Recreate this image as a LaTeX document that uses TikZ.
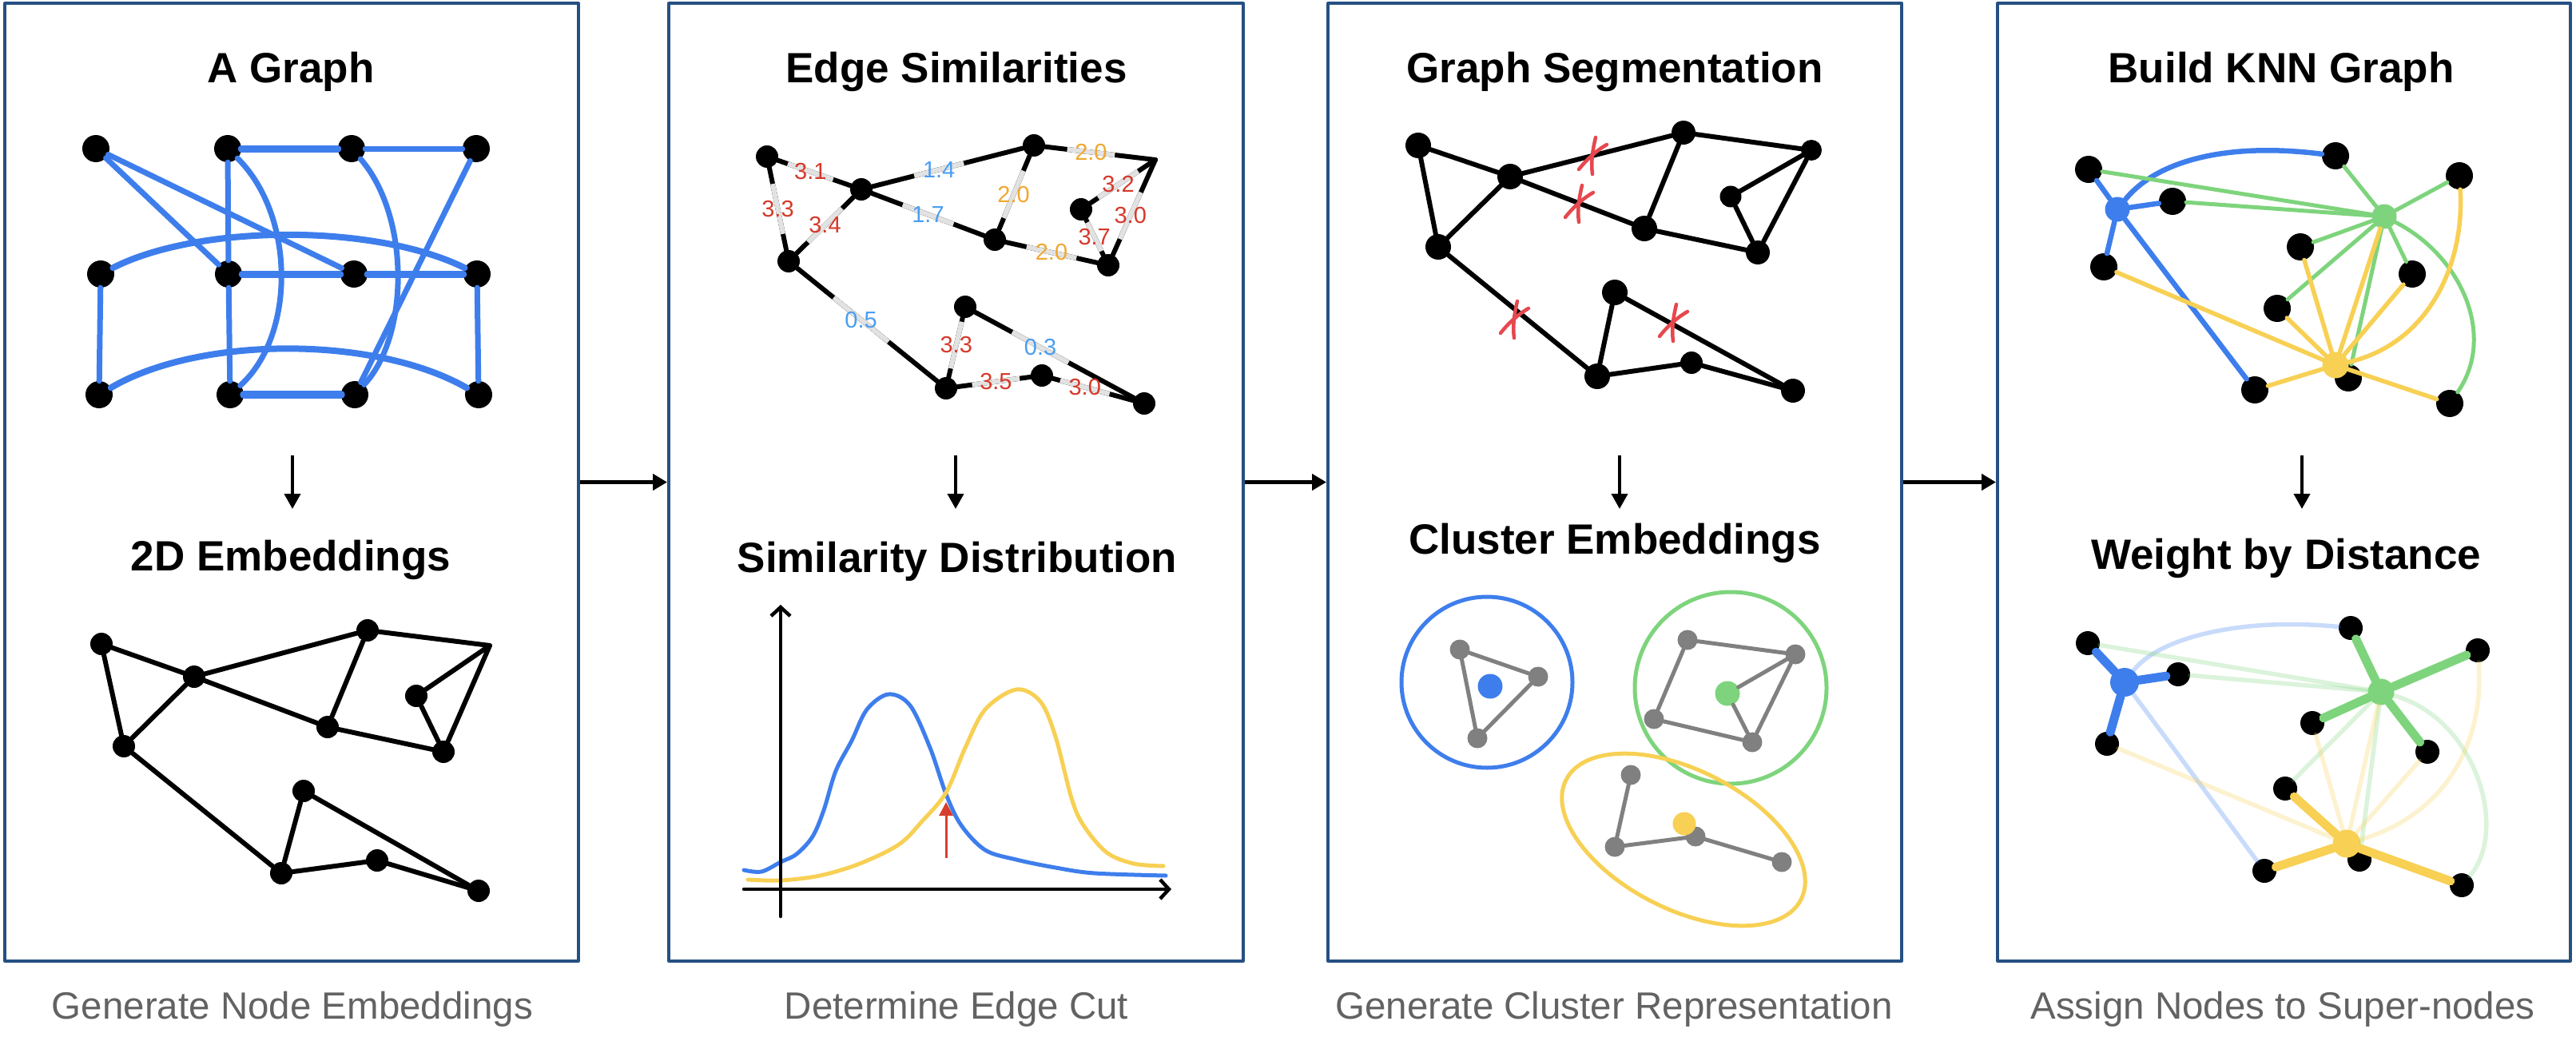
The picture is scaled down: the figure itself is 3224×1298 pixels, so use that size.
\documentclass[tikz,border=0pt]{standalone}
\usepackage{fontspec}
\setmainfont{Liberation Sans}
\usetikzlibrary{calc,arrows.meta}
\definecolor{pborder}{RGB}{37,80,130}
\definecolor{kblue}{RGB}{62,126,236}
\definecolor{kgreen}{RGB}{126,212,124}
\definecolor{kyellow}{RGB}{247,208,84}
\definecolor{lblred}{RGB}{214,57,42}
\definecolor{lblblue}{RGB}{74,158,240}
\definecolor{lblorange}{RGB}{240,168,48}
\definecolor{capgray}{RGB}{98,98,98}
\definecolor{xred}{RGB}{229,72,78}
\definecolor{seggray}{RGB}{226,226,226}
\definecolor{ngray}{RGB}{128,128,128}
\definecolor{arrred}{RGB}{216,62,45}
\tikzset{
  panelbox/.style={rectangle, draw=pborder, line width=4pt, inner sep=0pt},
  ttl/.style={font=\fontsize{53}{60}\selectfont\bfseries, anchor=base, inner sep=0pt},
  captxt/.style={font=\fontsize{47.5}{56}\selectfont, text=capgray, anchor=base, inner sep=0pt},
  flow/.style={line width=4.5pt, line cap=butt, -{Triangle[length=18pt,width=20pt]}},
  vflow/.style={line width=4pt, line cap=butt, -{Triangle[length=19pt,width=20pt]}},
  bdot/.style={circle, fill=black, inner sep=0pt, minimum size=#1},
  bdot/.default=32pt,
  cdot/.style={circle, fill=#1, inner sep=0pt, minimum size=31pt},
  gnode/.style={circle, fill=ngray, inner sep=0pt, minimum size=25pt},
  simline/.style={line width=6pt},
  simseg/.style={seggray, line width=6pt, line cap=butt},
  simlbl/.style={font=\fontsize{29}{31}\selectfont, inner sep=0pt},
  axisline/.style={line width=4.5pt, -{Straight Barb[length=11pt,width=24pt]}},
  xcut/.pic={
    \draw[xred, line width=4.5pt, line cap=round] (3,-23) .. controls (-1,-6) and (-3,8) .. (-1,23);
    \draw[xred, line width=4.5pt, line cap=round] (-18,17) .. controls (-8,4) and (6,-8) .. (17,-14);
  },
}
\newcommand{\SimEdge}[6]{%
  \draw[simline] (#1) -- (#2);
  \coordinate (mtmp) at ($(#1)!#3!(#2)$);
  \draw[simseg] ($(mtmp)!#6!(#1)$) -- ($(mtmp)!#6!(#2)$);
  \node[simlbl, text=#5] at (mtmp) {#4};
}
\begin{document}
\begin{tikzpicture}[x=1pt, y=-1pt, line cap=round, line join=round]
\useasboundingbox (0,0) rectangle (3224,1298);
% ---------------- panels and flow
\node[panelbox, minimum width=718pt, minimum height=1198pt] (p1) at (365,603.5) {};
\node[panelbox, minimum width=719pt, minimum height=1198pt] (p2) at (1196.5,603.5) {};
\node[panelbox, minimum width=718pt, minimum height=1198pt] (p3) at (2021,603.5) {};
\node[panelbox, minimum width=717pt, minimum height=1198pt] (p4) at (2858.5,603.5) {};
\draw[flow] (p1) -- (p2);
\draw[flow] (p2) -- (p3);
\draw[flow] (p3) -- (p4);
% ---------------- titles and captions
\node[ttl] (t1) at (364,103) {A Graph};
\node[ttl] (t2) at (1197,103) {Edge Similarities};
\node[ttl] (t3) at (2021,103) {Graph Segmentation};
\node[ttl] (t4) at (2855,103) {Build KNN Graph};
\node[ttl] (u1) at (364,714) {2D Embeddings};
\node[ttl] (u2) at (1198,716) {Similarity Distribution};
\node[ttl] (u3) at (2021,693) {Cluster Embeddings};
\node[ttl] (u4) at (2861,712) {Weight by Distance};
\node[captxt] (cap1) at (366,1275) {Generate Node Embeddings};
\node[captxt] (cap2) at (1197,1275) {Determine Edge Cut};
\node[captxt] (cap3) at (2020,1275) {Generate Cluster Representation};
\node[captxt] (cap4) at (2857,1275) {Assign Nodes to Super-nodes};
\foreach \i/\xx in {1/366, 2/1196, 3/2027, 4/2881} {
  \coordinate (vs\i) at (\xx,570); \coordinate (ve\i) at (\xx,637);
  \draw[vflow] (vs\i) -- (ve\i);
}
% ---------------- panel 1 top: a graph
\foreach \n/\xx/\yy in {a1/120/186, a2/285/186, a3/440/186, a4/596/186,
  b1/126/343, b2/286/343, b3/443/343, b4/597/343,
  c1/124/494, c2/288/494, c3/444/494, c4/599/494}
  \node[bdot=34pt] (\n) at (\xx,\yy) {};
\begin{scope}[kblue, line width=7pt]
\draw (a1) -- (b2);
\draw (a1) -- (b3);
\draw[line width=9pt] (a2) -- (a3);
\draw (a3) -- (a4);
\draw (a2) -- (b2);
\draw (b2) -- (c2);
\draw (a2) .. controls (370,270) and (370,420) .. (c2);
\draw (a3) .. controls (513,270) and (513,420) .. (c3);
\draw (a4) -- (c3);
\draw[line width=9pt] (b2) -- (b3);
\draw[line width=9pt] (b3) -- (b4);
\draw[line width=8pt] (b1) .. controls (250,280) and (470,280) .. (b4);
\draw[line width=8pt] (c1) .. controls (250,420) and (470,420) .. (c4);
\draw (b1) -- (c1);
\draw (b4) -- (c4);
\draw[line width=10pt] (c2) -- (c3);
\end{scope}
% ---------------- panel 1 bottom: embeddings
\foreach \n/\xx/\yy in {e1/127/806, e2/243/847, e3/460/789, e5/521/871, e6/410/910,
  e7/555/941, e8/155/934, e9/380/990, e10/352/1093, e11/472/1077, e12/599/1115}
  \node[bdot=28pt] (\n) at (\xx,\yy) {};
\coordinate (e4) at (613,808);
\begin{scope}[line width=6pt]
\draw (e1) -- (e2); \draw (e1) -- (e8); \draw (e2) -- (e8); \draw (e2) -- (e3);
\draw (e2) -- (e6); \draw (e3) -- (e6); \draw (e3) -- (e4) -- (e5); \draw (e4) -- (e7);
\draw (e5) -- (e7); \draw (e6) -- (e7); \draw (e8) -- (e10); \draw (e9) -- (e10);
\draw (e9) -- (e12); \draw (e10) -- (e11); \draw (e11) -- (e12);
\end{scope}
% ---------------- panel 2 top: edge similarities
\foreach \n/\xx/\yy in {s1/960/196, s2/1078/237, s3/1294/182, s5/1353/262, s6/1245/300,
  s7/1387/332, s8/987/327, s9/1208/384, s10/1184/486, s11/1304/470, s12/1432/505}
  \node[bdot=28pt] (\n) at (\xx,\yy) {};
\coordinate (s4) at (1446,200);
\SimEdge{s1}{s2}{0.46}{3.1}{lblred}{30pt}
\SimEdge{s2}{s3}{0.45}{1.4}{lblblue}{32pt}
\SimEdge{s3}{s4}{0.47}{2.0}{lblorange}{30pt}
\SimEdge{s1}{s8}{0.5}{3.3}{lblred}{32pt}
\SimEdge{s2}{s8}{0.5}{3.4}{lblred}{30pt}
\SimEdge{s2}{s6}{0.5}{1.7}{lblblue}{34pt}
\SimEdge{s3}{s6}{0.52}{2.0}{lblorange}{32pt}
\SimEdge{s4}{s5}{0.5}{3.2}{lblred}{30pt}
\SimEdge{s4}{s7}{0.53}{3.0}{lblred}{32pt}
\SimEdge{s5}{s7}{0.49}{3.7}{lblred}{20pt}
\SimEdge{s6}{s7}{0.5}{2.0}{lblorange}{32pt}
\SimEdge{s8}{s10}{0.46}{0.5}{lblblue}{44pt}
\SimEdge{s9}{s10}{0.47}{3.3}{lblred}{30pt}
\SimEdge{s9}{s12}{0.42}{0.3}{lblblue}{40pt}
\SimEdge{s10}{s11}{0.52}{3.5}{lblred}{30pt}
\SimEdge{s11}{s12}{0.42}{3.0}{lblred}{32pt}
% ---------------- panel 2 bottom: distribution
\draw[kblue, line width=5pt] plot[smooth, tension=0.55] coordinates {
  (931,1089) (953,1091) (977,1079) (997,1069) (1017,1047) (1031,1014) (1046,965)
  (1066,927) (1085,888) (1112,869) (1139,883) (1164,936) (1184,994) (1203,1033)
  (1233,1064) (1272,1076) (1321,1086) (1370,1093) (1459,1096)};
\draw[kyellow, line width=5pt] plot[smooth, tension=0.55] coordinates {
  (936,1101) (977,1102) (1026,1096) (1076,1081) (1125,1057) (1154,1028) (1184,992)
  (1208,936) (1233,888) (1272,863) (1302,878) (1321,922) (1341,999) (1356,1033)
  (1385,1067) (1419,1081) (1456,1084)};
\coordinate (ya0) at (977,1147); \coordinate (ya1) at (977,757);
\coordinate (xa0) at (931,1113); \coordinate (xa1) at (1466,1113);
\draw[axisline] (ya0) -- (ya1);
\draw[axisline] (xa0) -- (xa1);
\coordinate (ra0) at (1184,1074); \coordinate (ra1) at (1184,1004);
\draw[arrred, line width=3pt, line cap=butt, -{Triangle[length=17pt,width=17pt]}] (ra0) -- (ra1);
% ---------------- panel 3 top: segmentation
\foreach \n/\xx/\yy/\ss in {g1/1775/182/32pt, g2/1890/221/32pt, g3/2107/166/30pt, g4/2267/188/26pt,
  g5/2166/246/27pt, g6/2058/286/32pt, g7/2200/316/30pt, g8/1800/309/32pt, g9/2021/366/32pt,
  g10/1999/471/32pt, g11/2117/454/28pt, g12/2244/489/30pt}
  \node[bdot=\ss] (\n) at (\xx,\yy) {};
\begin{scope}[line width=6pt]
\draw (g1) -- (g2); \draw (g1) -- (g8); \draw (g2) -- (g8); \draw (g2) -- (g3);
\draw (g2) -- (g6); \draw (g3) -- (g6); \draw (g3) -- (g4); \draw (g4) -- (g5);
\draw (g4) -- (g7); \draw (g5) -- (g7); \draw (g6) -- (g7); \draw (g8) -- (g10);
\draw (g9) -- (g10); \draw (g9) -- (g12); \draw (g10) -- (g11); \draw (g11) -- (g12);
\end{scope}
\pic at (1994,195) {xcut};
\pic at (1977,255) {xcut};
\pic at (1896,400) {xcut};
\pic at (2095,404) {xcut};
% ---------------- panel 3 bottom: clusters
\coordinate (cb) at (1861,854);
\coordinate (cg) at (2166,861);
\coordinate (cy) at (2107,1051);
\draw[kblue, line width=5pt] (cb) circle[radius=107pt];
\draw[kgreen, line width=5pt] (cg) circle[radius=120pt];
\draw[kyellow, line width=5pt, rotate around={-27:(cy)}] (cy) ellipse[x radius=165pt, y radius=87pt];
\foreach \n/\xx/\yy in {m1/1827/813, m2/1925/847, m3/1849/924,
  q1/2112/801, q2/2247/819, q3/2070/900, q4/2193/929,
  y1/2041/970, y2/2021/1060, y3/2122/1047, y4/2230/1079}
  \node[gnode] (\n) at (\xx,\yy) {};
\node[cdot=kblue] (bd) at (1865,859) {};
\node[cdot=kgreen] (gd) at (2162,868) {};
\node[cdot=kyellow, minimum size=29pt] (yd) at (2108,1031) {};
\begin{scope}[ngray, line width=5pt]
\draw (m1) -- (m2); \draw (m2) -- (m3); \draw (m3) -- (m1);
\draw (q1) -- (q2); \draw (q1) -- (q3); \draw (q3) -- (q4); \draw (q2) -- (q4);
\draw (q2) -- (gd); \draw (gd) -- (q4);
\draw (y1) -- (y2); \draw (y2) -- (y3); \draw (y3) -- (y4);
\end{scope}
% ---------------- panel 4 top: KNN graph
\foreach \n/\xx/\yy in {k1/2614/212, k2/2923/195, k3/3078/220, k4/2719/252, k5/2879/309,
  k6/3019/343, k7/2633/334, k8/2850/386, k9/2822/488, k10/2939/473, k11/3066/505}
  \node[bdot=34pt] (\n) at (\xx,\yy) {};
\node[cdot=kblue] (KB) at (2650,262) {};
\node[cdot=kgreen] (KG) at (2984,271) {};
\node[cdot=kyellow, minimum size=33pt] (KY) at (2923,457) {};
\begin{scope}[kblue, line width=6.5pt]
\draw (KB) -- (k1); \draw (KB) -- (k4); \draw (KB) -- (k7); \draw (KB) -- (k9);
\draw (KB) .. controls (2700,200) and (2790,178) .. (k2);
\end{scope}
\begin{scope}[kgreen, line width=5pt]
\draw (k1) -- (KG); \draw (k4) -- (KG); \draw (k2) -- (KG); \draw (k3) -- (KG);
\draw (k5) -- (KG); \draw (k6) -- (KG); \draw (k8) -- (KG); \draw (k10) -- (KG);
\draw (KG) .. controls (3080,320) and (3125,420) .. (k11);
\end{scope}
\begin{scope}[kyellow, line width=5.5pt]
\draw (k7) -- (KY); \draw (k5) -- (KY); \draw (k8) -- (KY); \draw (KG) -- (KY);
\draw (k6) -- (KY); \draw (k9) -- (KY); \draw (k11) -- (KY);
\draw (k3) .. controls (3085,330) and (3040,430) .. (KY);
\end{scope}
% ---------------- panel 4 bottom: weight by distance
\foreach \n/\xx/\yy in {w1/2613/805, w2/2942/786, w3/3101/814, w4/2726/844, w5/2894/905,
  w6/3038/941, w7/2637/931, w8/2860/987, w9/2834/1090, w10/2953/1076, w11/3081/1108}
  \node[bdot=30pt] (\n) at (\xx,\yy) {};
\node[cdot=kblue, minimum size=36pt] (WB) at (2659,854) {};
\node[cdot=kgreen, minimum size=33pt] (WG) at (2980,866) {};
\node[cdot=kyellow, minimum size=35pt] (WY) at (2937,1056) {};
\begin{scope}[line width=5.5pt, draw opacity=0.28]
\draw[kblue] (WB) .. controls (2700,800) and (2800,772) .. (w2);
\draw[kblue] (WB) -- (w9);
\draw[kgreen] (w1) -- (WG); \draw[kgreen] (w4) -- (WG); \draw[kgreen] (w8) -- (WG);
\draw[kgreen] (w10) -- (WG);
\draw[kgreen] (WG) .. controls (3100,900) and (3140,1040) .. (w11);
\draw[kyellow] (w7) -- (WY); \draw[kyellow] (w5) -- (WY); \draw[kyellow] (WG) -- (WY);
\draw[kyellow] (w6) -- (WY);
\draw[kyellow] (w3) .. controls (3110,930) and (3060,1020) .. (WY);
\end{scope}
\begin{scope}[line width=11pt]
\draw[kblue] (WB) -- (w1); \draw[kblue] (WB) -- (w4); \draw[kblue] (WB) -- (w7);
\draw[kgreen] (WG) -- (w2); \draw[kgreen] (WG) -- (w3); \draw[kgreen] (WG) -- (w5);
\draw[kgreen] (WG) -- (w6);
\draw[kyellow] (WY) -- (w8); \draw[kyellow] (WY) -- (w9); \draw[kyellow] (WY) -- (w11);
\end{scope}
\end{tikzpicture}
\end{document}
